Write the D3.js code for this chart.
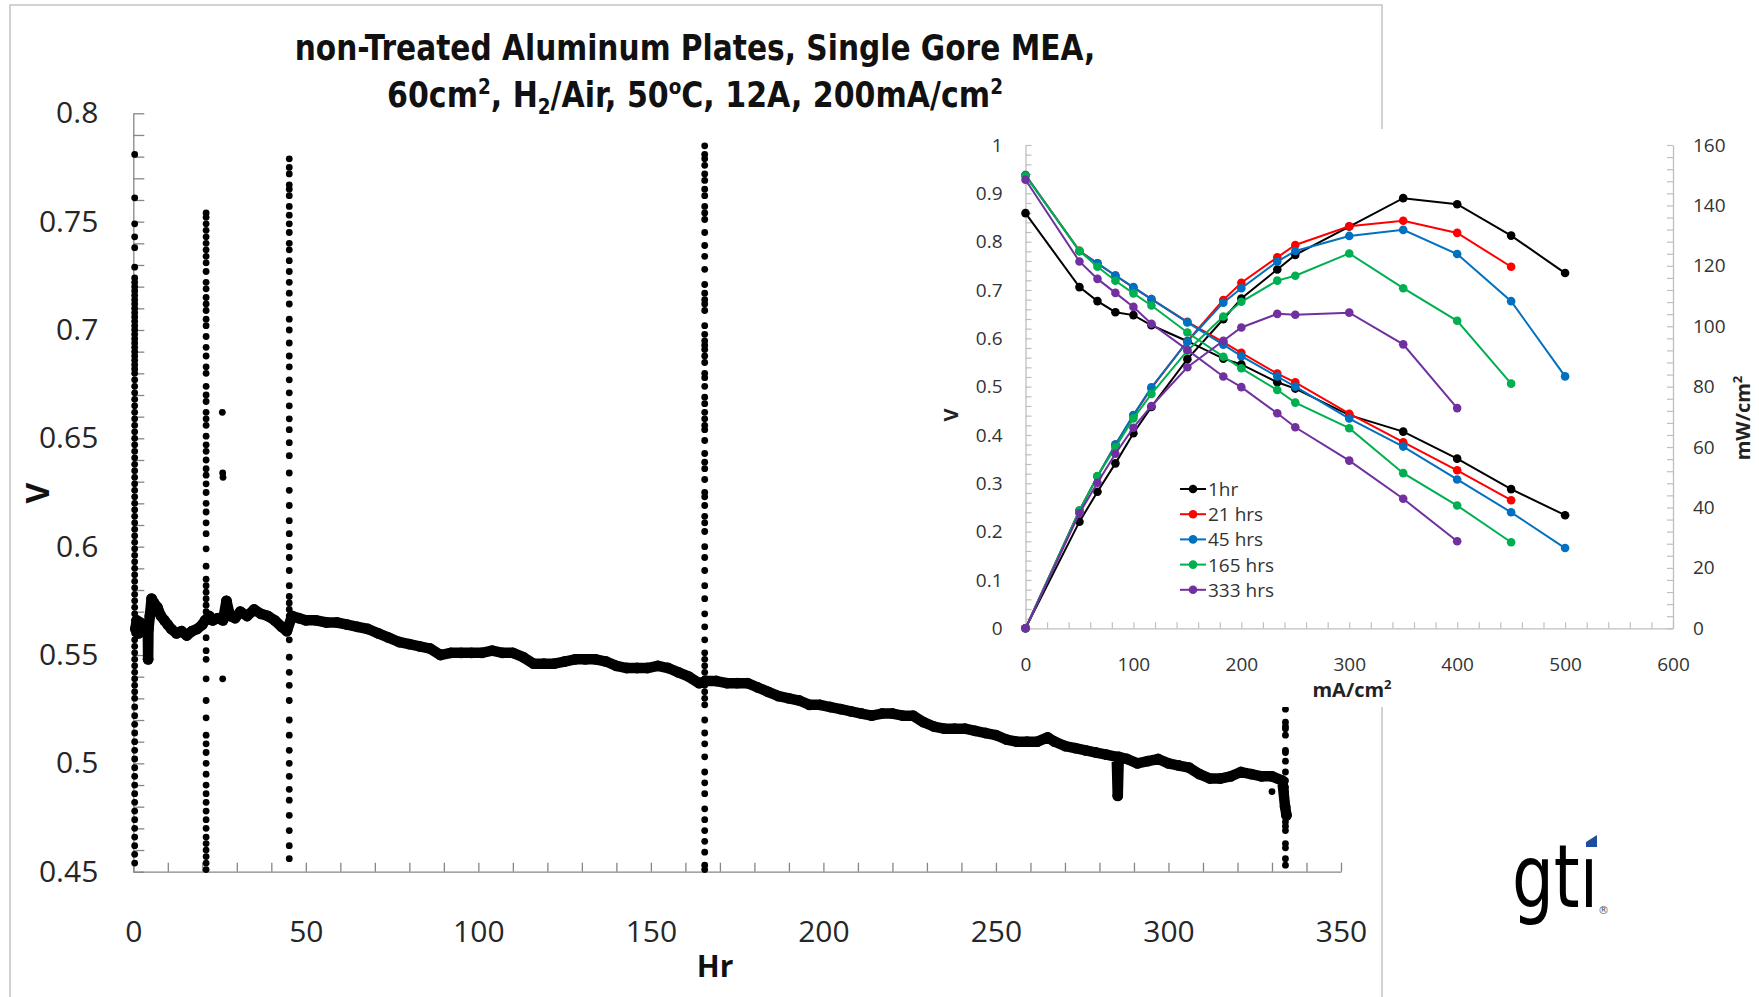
<!DOCTYPE html>
<html><head><meta charset="utf-8">
<script src="https://cdn.jsdelivr.net/npm/d3@7"></script>
<style>body{margin:0;background:#fff} svg{display:block}</style>
</head><body><svg id="c" width="1759" height="997"></svg>
<script>
// ---------------- DATA ----------------
// Main chart: long-term voltage at 200 mA/cm2 (Hr, V)
const trendPoints = [[0.6,0.562],[1,0.566],[1.5,0.560],[2,0.565],[3,0.562],[3.8,0.564],[4.2,0.563],[4.3,0.548],[4.4,0.562],[4.8,0.568],[5.3,0.576],[6,0.574],[7,0.572],[8,0.568],[9,0.566],[10,0.564],[11,0.562],[12.5,0.560],[14,0.561],[15.5,0.559],[17,0.561],[18.5,0.562],[20,0.564],[20.8,0.566],[22,0.568],[23,0.566],[24.5,0.567],[26,0.566],[27,0.575],[28,0.568],[29.5,0.567],[31,0.570],[33,0.568],[35,0.571],[37,0.569],[39,0.568],[41,0.566],[43,0.563],[44.5,0.561],[46,0.568],[48,0.567],[50,0.566],[53,0.566],[56,0.565],[59,0.565],[62,0.564],[65,0.563],[68,0.562],[71,0.560],[74,0.558],[77,0.556],[80,0.555],[83,0.554],[86,0.553],[89,0.550],[92,0.551],[95,0.551],[98,0.551],[101,0.551],[104,0.552],[107,0.551],[110,0.551],[113,0.549],[116,0.546],[119,0.546],[122,0.546],[125,0.547],[128,0.548],[131,0.548],[134,0.548],[137,0.547],[140,0.545],[143,0.544],[146,0.544],[149,0.544],[152,0.545],[155,0.544],[158,0.542],[161,0.540],[164,0.537],[166,0.538],[169,0.538],[172,0.537],[175,0.537],[178,0.537],[181,0.535],[184,0.533],[187,0.531],[190,0.530],[193,0.529],[196,0.527],[199,0.527],[202,0.526],[205,0.525],[208,0.524],[211,0.523],[214,0.522],[217,0.523],[220,0.523],[223,0.522],[226,0.522],[229,0.519],[232,0.517],[235,0.516],[238,0.516],[241,0.516],[244,0.515],[247,0.514],[250,0.513],[253,0.511],[256,0.510],[259,0.510],[262,0.510],[265,0.512],[267,0.510],[270,0.508],[273,0.507],[276,0.506],[279,0.505],[282,0.504],[285,0.503],[285.3,0.485],[285.6,0.503],[288,0.502],[291,0.500],[294,0.501],[297,0.502],[300,0.500],[303,0.499],[306,0.498],[309,0.495],[312,0.493],[315,0.493],[318,0.494],[321,0.496],[324,0.495],[327,0.494],[330,0.494],[333,0.492],[333.8,0.480],[334.2,0.476]];

// Polarization-sweep readings logged at fixed hours (vertical dotted columns)
const sweepHours = [0.4, 21.1, 45.2, 165.6, 333.9];
const sweep0V = [0.781,0.761,0.749,0.743,0.738,0.729,0.724,0.722,0.720,0.718,0.716,0.714,0.712,0.710,0.708,0.706,0.704,0.702,0.700,0.698,0.696,0.694,0.692,0.690,0.688,0.686,0.684,0.682,0.680,0.677,0.674,0.671,0.668,0.665,0.662,0.659,0.656,0.653,0.650,0.647,0.644,0.641,0.638,0.635,0.632,0.629,0.626,0.623,0.620,0.617,0.614,0.611,0.608,0.605,0.602,0.599,0.596,0.593,0.590,0.587,0.584,0.581,0.578,0.575,0.572,0.569,0.566,0.563,0.560,0.557,0.554,0.551,0.548,0.545,0.542,0.539,0.536,0.533,0.530,0.526,0.522,0.518,0.514,0.510,0.506,0.502,0.498,0.494,0.490,0.486,0.482,0.478,0.474,0.470,0.466,0.462,0.458,0.454];
const sweep21V = [0.754,0.752,0.749,0.746,0.743,0.740,0.737,0.734,0.731,0.727,0.722,0.719,0.715,0.712,0.709,0.705,0.702,0.697,0.692,0.688,0.683,0.680,0.674,0.670,0.667,0.662,0.659,0.656,0.651,0.647,0.644,0.640,0.636,0.633,0.629,0.625,0.620,0.616,0.611,0.606,0.599,0.591,0.585,0.582,0.579,0.576,0.573,0.570,0.567,0.558,0.552,0.548,0.539,0.529,0.521,0.513,0.509,0.505,0.500,0.495,0.490,0.486,0.482,0.478,0.474,0.470,0.466,0.463,0.460,0.457,0.454,0.451];
const sweep45V = [0.779,0.775,0.772,0.767,0.765,0.762,0.757,0.753,0.749,0.745,0.740,0.737,0.732,0.727,0.722,0.717,0.712,0.705,0.700,0.694,0.688,0.683,0.677,0.671,0.665,0.659,0.654,0.648,0.642,0.634,0.626,0.619,0.612,0.606,0.600,0.595,0.589,0.582,0.577,0.574,0.571,0.568,0.565,0.562,0.557,0.549,0.542,0.536,0.529,0.520,0.513,0.506,0.500,0.494,0.488,0.483,0.476,0.469,0.462,0.456];
const sweep165V = [0.785,0.781,0.779,0.776,0.772,0.769,0.765,0.762,0.757,0.754,0.751,0.745,0.739,0.734,0.728,0.721,0.717,0.714,0.712,0.709,0.702,0.698,0.695,0.693,0.691,0.688,0.685,0.680,0.678,0.674,0.669,0.666,0.662,0.659,0.656,0.654,0.649,0.643,0.639,0.636,0.631,0.625,0.623,0.619,0.614,0.611,0.607,0.600,0.595,0.589,0.582,0.576,0.569,0.563,0.557,0.551,0.548,0.545,0.542,0.539,0.536,0.533,0.530,0.527,0.520,0.514,0.509,0.503,0.496,0.491,0.486,0.479,0.474,0.469,0.464,0.459,0.453,0.451];
const sweep333V = [0.525,0.519,0.517,0.516,0.513,0.506,0.505,0.501,0.496,0.492,0.489,0.487,0.485,0.483,0.482,0.480,0.479,0.478,0.476,0.473,0.471,0.469,0.463,0.461,0.456,0.453];
const strayPoints = [[25.8,0.662],[25.9,0.634],[26.0,0.632],[25.9,0.539],[330,0.487],[4.3,0.551],[285.3,0.489],[285.3,0.493]];

// Inset: polarization & power density curves
const currentDensity = [0,50,66.7,83.3,100,116.7,150,183.3,200,233.3,250,300,350,400,450,500];
const seriesNames = ["1hr","21 hrs","45 hrs","165 hrs","333 hrs"];
const v1hr  = [0.859,0.706,0.677,0.654,0.648,0.627,0.594,0.558,0.546,0.509,0.496,0.441,0.407,0.351,0.288,0.234];
const v21   = [0.938,0.781,0.755,0.730,0.705,0.681,0.634,0.592,0.570,0.527,0.509,0.444,0.385,0.327,0.265];
const v45   = [0.938,0.780,0.755,0.730,0.706,0.681,0.633,0.587,0.563,0.521,0.500,0.434,0.376,0.308,0.240,0.166];
const v165  = [0.936,0.781,0.748,0.719,0.693,0.668,0.612,0.562,0.538,0.493,0.467,0.414,0.321,0.254,0.178];
const v333  = [0.928,0.759,0.723,0.694,0.665,0.630,0.576,0.521,0.499,0.445,0.416,0.347,0.268,0.180];
const p1hr  = [0,35.3,45.2,54.6,64.6,73.3,89.1,102.3,109.2,118.8,123.6,133.0,142.4,140.4,130.0,117.6];
const p21   = [0,39.0,50.3,60.8,70.5,79.5,95.1,108.7,114.4,122.8,126.9,133.1,134.9,130.9,119.7];
const p45   = [0,39.0,50.3,60.8,70.6,79.8,94.9,107.8,112.6,121.4,124.9,129.9,131.9,123.9,108.3,83.4];
const p165  = [0,38.9,50.4,59.9,69.5,77.6,91.9,103.2,108.1,115.1,116.7,124.1,112.6,101.8,81.0];
const p333  = [0,38.1,48.2,57.8,66.4,73.6,86.4,95.2,99.6,104.1,103.8,104.5,94.0,72.9];
const seriesColors = ["#000000","#ff0000","#0070c0","#00b050","#7030a0"];

// ---------------- DRAW ----------------
const svg = d3.select("#c");
const W = 1759, H = 997;
svg.append("rect").attr("width",W).attr("height",H).attr("fill","#fff");
svg.append("rect").attr("x",10).attr("y",5).attr("width",1372).attr("height",1100)
  .attr("fill","none").attr("stroke","#c4c4c4").attr("stroke-width",1.5);

const tickFont = "'Open Sans','Noto Sans',sans-serif";
const boldFont = "'Open Sans','Noto Sans',sans-serif";
const titleFont = "'Liberation Sans Narrow','DejaVu Sans Condensed','Open Sans',sans-serif";

// Title
function fitText(sel, cx, target){
  const w = sel.node().getBBox().width;
  sel.attr("transform",`translate(${cx},${sel.attr("data-y")}) scale(${target/w},1)`);
}
const t1 = svg.append("text").attr("data-y",60).attr("text-anchor","middle")
  .attr("font-family",titleFont).attr("font-weight","bold").attr("font-size",36).attr("fill","#111")
  .text("non-Treated Aluminum Plates, Single Gore MEA,");
fitText(t1, 695, 801);
const t2 = svg.append("text").attr("data-y",107).attr("text-anchor","middle")
  .attr("font-family",titleFont).attr("font-weight","bold").attr("font-size",36).attr("fill","#111");
t2.append("tspan").text("60cm");
t2.append("tspan").attr("dy",-13).attr("font-size",22).text("2");
t2.append("tspan").attr("dy",13).text(", H");
t2.append("tspan").attr("dy",7).attr("font-size",22).text("2");
t2.append("tspan").attr("dy",-7).text("/Air, 50");
t2.append("tspan").attr("dy",-13).attr("font-size",22).text("o");
t2.append("tspan").attr("dy",13).text("C, 12A, 200mA/cm");
t2.append("tspan").attr("dy",-13).attr("font-size",22).text("2");
fitText(t2, 695, 616);

// Main scales
const x = d3.scaleLinear().domain([0,350]).range([133.3,1341]);
const y = d3.scaleLinear().domain([0.45,0.8]).range([871.7,113.3]);

const gx = svg.append("g").attr("transform",`translate(0,${y(0.45)})`)
  .call(d3.axisBottom(x).tickValues(d3.range(0,351,10)).tickSizeInner(-9).tickSizeOuter(0)
    .tickPadding(49).tickFormat(d => d%50===0 ? d : ""));
const gy = svg.append("g").attr("transform",`translate(${x(0)},0)`)
  .call(d3.axisLeft(y).tickValues(d3.range(45,81).map(v=>v/100)).tickSizeInner(-11).tickSizeOuter(0)
    .tickPadding(35).tickFormat(v => Math.round(v*100)%5===0 ? String(+v.toFixed(2)) : ""));
[gx,gy].forEach(g=>{
  g.select(".domain").attr("stroke","#868686").attr("stroke-width",1.3);
  g.selectAll(".tick line").attr("stroke","#868686").attr("stroke-width",1.3);
  g.selectAll("text").attr("font-family",tickFont).attr("font-size",30).attr("fill","#262626");
});

svg.append("text").attr("x",715).attr("y",977).attr("text-anchor","middle")
  .attr("font-family",boldFont).attr("font-weight","bold").attr("font-size",30).attr("fill","#111").text("Hr");
svg.append("text").attr("transform","translate(49,493) rotate(-90)").attr("text-anchor","middle")
  .attr("font-family",boldFont).attr("font-weight","bold").attr("font-size",32).attr("fill","#111").text("V");

// Main data
const mainG = svg.append("g");
mainG.append("path").datum(trendPoints)
  .attr("d", d3.line().x(d=>x(d[0])).y(d=>y(d[1])))
  .attr("fill","none").attr("stroke","#000").attr("stroke-width",10.5)
  .attr("stroke-linejoin","round").attr("stroke-linecap","round");
const dotR = 3.4;
mainG.selectAll("circle.tr").data(trendPoints).join("circle")
  .attr("cx",d=>x(d[0])).attr("cy",d=>y(d[1])).attr("r",dotR+2).attr("fill","#000");
const sweeps = [sweep0V,sweep21V,sweep45V,sweep165V,sweep333V];
sweeps.forEach((vals,k)=>{
  mainG.selectAll(null).data(vals).join("circle")
    .attr("cx",x(sweepHours[k])).attr("cy",v=>y(v)).attr("r",dotR).attr("fill","#000");
});
mainG.selectAll(null).data(strayPoints).join("circle")
  .attr("cx",d=>x(d[0])).attr("cy",d=>y(d[1])).attr("r",dotR).attr("fill","#000");

// ---------------- INSET ----------------
svg.append("rect").attr("x",932).attr("y",129).attr("width",827).attr("height",578).attr("fill","#fff");
const xi = d3.scaleLinear().domain([0,600]).range([1025.5,1673]);
const yiL = d3.scaleLinear().domain([0,1]).range([628.3,145]);
const yiR = d3.scaleLinear().domain([0,160]).range([628.3,145]);

const ix = svg.append("g").attr("transform",`translate(0,${yiL(0)})`)
  .call(d3.axisBottom(xi).tickValues(d3.range(0,601,20)).tickSizeInner(-6).tickSizeOuter(0)
    .tickPadding(29).tickFormat(d=> d%100===0 ? d : ""));
const iyl = svg.append("g").attr("transform",`translate(${xi(0)},0)`)
  .call(d3.axisLeft(yiL).tickValues(d3.range(0,51).map(i=>i/50)).tickSizeInner(-6).tickSizeOuter(0)
    .tickPadding(23).tickFormat(v => Math.round(v*50)%5===0 ? String(+v.toFixed(1)) : ""));
const iyr = svg.append("g").attr("transform",`translate(${xi(600)},0)`)
  .call(d3.axisRight(yiR).tickValues(d3.range(0,161,4)).tickSizeInner(-6).tickSizeOuter(0)
    .tickPadding(20).tickFormat(d=> d%20===0 ? d : ""));
[ix,iyl,iyr].forEach(g=>{
  g.select(".domain").attr("stroke","#bfbfbf").attr("stroke-width",1.3);
  g.selectAll(".tick line").attr("stroke","#bfbfbf").attr("stroke-width",1.2);
  g.selectAll("text").attr("font-family",tickFont).attr("font-size",19).attr("fill","#333");
});

const vSeries = [v1hr,v21,v45,v165,v333];
const pSeries = [p1hr,p21,p45,p165,p333];
const lineV = d3.line().x((d,i)=>xi(currentDensity[i])).y(d=>yiL(d));
const lineP = d3.line().x((d,i)=>xi(currentDensity[i])).y(d=>yiR(d));
const ig = svg.append("g");
vSeries.forEach((vals,k)=>{
  const c = seriesColors[k];
  ig.append("path").datum(vals).attr("d",lineV).attr("fill","none").attr("stroke",c).attr("stroke-width",2);
  ig.append("path").datum(pSeries[k]).attr("d",lineP).attr("fill","none").attr("stroke",c).attr("stroke-width",2);
  ig.selectAll(null).data(vals).join("circle")
    .attr("cx",(d,i)=>xi(currentDensity[i])).attr("cy",d=>yiL(d)).attr("r",4.3).attr("fill",c);
  ig.selectAll(null).data(pSeries[k]).join("circle")
    .attr("cx",(d,i)=>xi(currentDensity[i])).attr("cy",d=>yiR(d)).attr("r",4.3).attr("fill",c);
});

// Inset axis titles
svg.append("text").attr("transform","translate(958,415) rotate(-90)").attr("text-anchor","middle")
  .attr("font-family",boldFont).attr("font-weight","bold").attr("font-size",20).attr("fill","#222").text("V");
const mw = svg.append("text").attr("transform","translate(1750,418) rotate(-90)").attr("text-anchor","middle")
  .attr("font-family",boldFont).attr("font-weight","bold").attr("font-size",20).attr("fill","#222");
mw.append("tspan").text("mW/cm");
mw.append("tspan").attr("dy",-8).attr("font-size",13).text("2");
const ma = svg.append("text").attr("x",1352).attr("y",697).attr("text-anchor","middle")
  .attr("font-family",boldFont).attr("font-weight","bold").attr("font-size",20).attr("fill","#222");
ma.append("tspan").text("mA/cm");
ma.append("tspan").attr("dy",-8).attr("font-size",13).text("2");

// Legend
const lg = svg.append("g");
seriesNames.forEach((name,k)=>{
  const cy = 489 + k*25.2;
  lg.append("line").attr("x1",1180).attr("x2",1206).attr("y1",cy).attr("y2",cy)
    .attr("stroke",seriesColors[k]).attr("stroke-width",2);
  lg.append("circle").attr("cx",1193).attr("cy",cy).attr("r",4.3).attr("fill",seriesColors[k]);
  lg.append("text").attr("x",1208).attr("y",cy+7).attr("font-family",tickFont).attr("font-size",19)
    .attr("fill","#333").text(name);
});

// gti logo
const logo = svg.append("text").attr("data-y",907).attr("text-anchor","middle")
  .attr("font-family","'Liberation Sans Narrow','DejaVu Sans Condensed','Liberation Sans',sans-serif")
  .attr("font-size",88).attr("fill","#000").text("gt\u0131");
fitText(logo, 1555, 86);
svg.append("polygon").attr("points","1586,842 1597,835 1597,847 1586,847").attr("fill","#1f4e9c");
svg.append("text").attr("x",1598).attr("y",914).attr("font-family","'DejaVu Sans',sans-serif")
  .attr("font-size",11).attr("fill","#555").text("\u00AE");
</script></body></html>
